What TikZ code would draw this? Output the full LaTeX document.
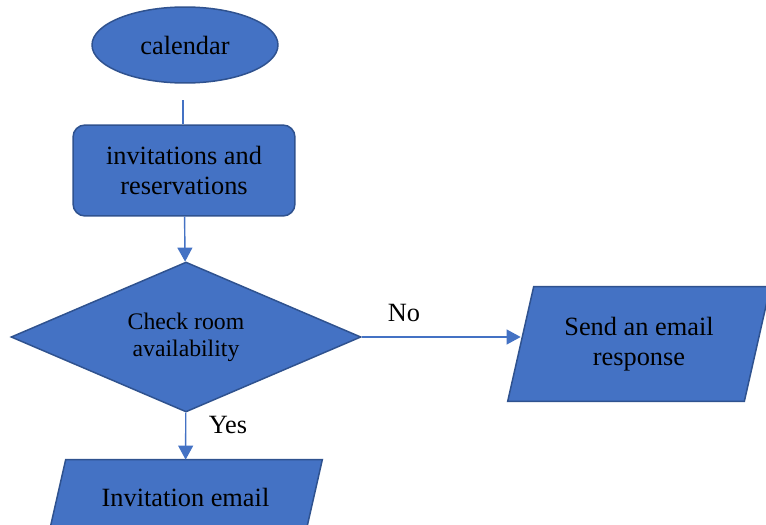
\documentclass[tikz,border=0pt]{standalone}
\usepackage{fontspec}
\setmainfont{Liberation Serif}
\usetikzlibrary{shapes.geometric,arrows.meta,backgrounds}
\definecolor{boxblue}{HTML}{4472C4}
\definecolor{edgeblue}{HTML}{2F528F}
\begin{document}
\begin{tikzpicture}[x=0.02cm, y=-0.02cm, >={Triangle[length=8pt,width=8.5pt]},
    base/.style={draw=edgeblue, line width=0.85pt, fill=boxblue, inner sep=0pt, align=center,
      font=\fontsize{15}{17.25}\selectfont},
    startnode/.style={base, ellipse, minimum width=3.72cm, minimum height=1.52cm},
    procnode/.style={base, rectangle, rounded corners=0.24cm, minimum width=4.44cm, minimum height=1.82cm},
    decnode/.style={base, diamond, aspect=2.33, minimum width=7cm, minimum height=3cm,
      font=\fontsize{13.5}{15.5}\selectfont},
    ionode/.style={rectangle, inner sep=0pt, align=center, font=\fontsize{15}{17.25}\selectfont},
    flow/.style={draw=boxblue, line width=0.8pt},
    lbl/.style={font=\fontsize{15}{17.25}\selectfont}]
  \useasboundingbox (0,0) rectangle (766,524);
  \clip (0,0) rectangle (766,524);
  % Nodes of the flowchart
  \node[startnode] (cal) at (185,45) {calendar};
  \coordinate (calfoot) at (183,100);
  \node[procnode] (inv) at (184,170.5) {invitations and\\reservations};
  \node[decnode] (check) at (186,337) {Check room\\availability};
  \node[ionode, minimum width=4.72cm, minimum height=2.28cm] (send) at (639,344) {Send an email\\response};
  \node[ionode, minimum width=5.12cm, minimum height=1.48cm] (mail) at (185.5,497) {Invitation email};
  % Slanted input/output boxes behind their text
  \begin{scope}[on background layer]
    \foreach \n/\s in {send/13, mail/8.5}{
      \draw[base] ([xshift=\s*0.02cm]\n.north west) -- ([xshift=\s*0.02cm]\n.north east)
        -- ([xshift=-\s*0.02cm]\n.south east) -- ([xshift=-\s*0.02cm]\n.south west) -- cycle;
    }
  \end{scope}
  % Connectors
  \draw[flow] (calfoot) -- (calfoot |- inv.north);
  \draw[flow, ->] (inv) -- (check);
  \draw[flow, ->] (check.east) -- (check.east -| send.west);
  \draw[flow, ->] (check) -- (mail);
  % Branch labels
  \node[lbl] (no) at (404,313) {No};
  \node[lbl] (yes) at (228,425) {Yes};
\end{tikzpicture}
\end{document}
